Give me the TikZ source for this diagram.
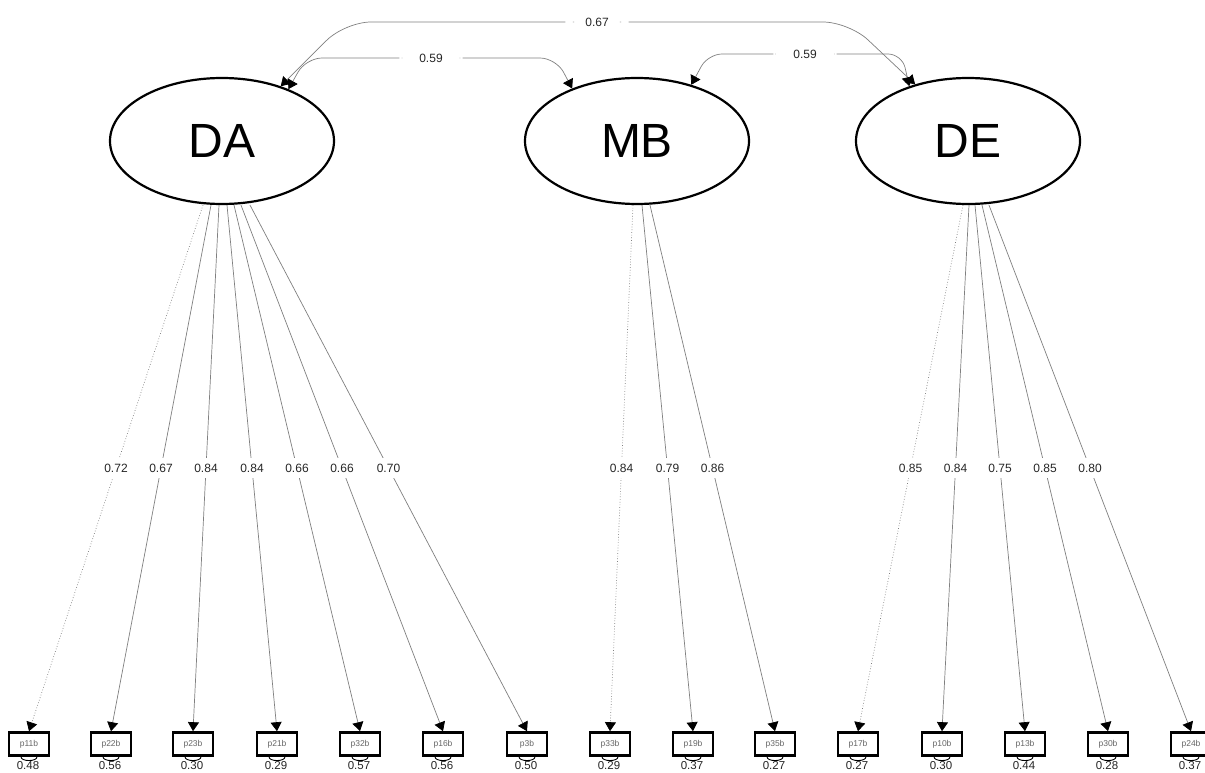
\documentclass[tikz,border=0pt]{standalone}
\usepackage{fontspec}
\setmainfont{Liberation Sans}
\usetikzlibrary{arrows.meta,calc,shapes.geometric}
\begin{document}
\begin{tikzpicture}[x=1pt,y=-1pt,
 latent/.style={ellipse,draw=black,line width=2.2pt,minimum width=224pt,minimum height=126pt,inner sep=0pt,font=\fontsize{48}{48}\selectfont},
 manifest/.style={rectangle,draw=black,line width=2.6pt,minimum width=40pt,minimum height=23pt,inner sep=0pt,text=black!60,font=\fontsize{8.5}{8.5}\selectfont},
 lbl/.style={fill=white,inner sep=1.5pt,font=\fontsize{12}{12}\selectfont,text=black!85},
 lodl/.style={lbl,inner xsep=3pt,inner ysep=6pt},
 covl/.style={lbl,inner xsep=20pt,inner ysep=3pt},
 resl/.style={lbl,inner sep=0.5pt,font=\fontsize{11.5}{11.5}\selectfont},
 tipx/.tip={Triangle[width=11pt,length=9pt,color=black]},
 load/.style={draw=black!50,line width=0.7pt,-tipx},
 fixed/.style={load,dotted},
 cov/.style={draw=black!50,line width=0.7pt,tipx-tipx},
 resid/.style={draw=black,line width=0.9pt},
]
\useasboundingbox (0,0) rectangle (1205,773);
\fill[white] (0,0) rectangle (1205,773);

\node[latent] (DA) at (222,141) {DA};
\node[latent] (MB) at (637,141) {MB};
\node[latent] (DE) at (968,141) {DE};

\foreach \n/\x/\r in {p11b/29/0.48, p22b/111/0.56, p23b/193/0.30, p21b/277/0.29, p32b/360/0.57, p16b/443/0.56, p3b/527/0.50, p33b/610/0.29, p19b/693/0.37, p35b/775/0.27, p17b/858/0.27, p10b/942/0.30, p13b/1025/0.44, p30b/1108/0.28, p24b/1191/0.37} {
  \node[manifest] (\n) at (\x,744) {\n};
  \draw[resid] ($(\n.south)+(-8,0)$) .. controls +(0,5) and +(0,5) .. ($(\n.south)+(8,0)$);
  \node[resl] (r\n) at ($(\n.south)+(-1,8.5)$) {\r};
}

\foreach \f/\o/\t/\l/\s in {DA/-19/p11b/0.72/fixed, DA/-11/p22b/0.67/load, DA/-3/p23b/0.84/load, DA/5/p21b/0.84/load, DA/12/p32b/0.66/load, DA/19/p16b/0.66/load, DA/28/p3b/0.70/load,
  MB/-4/p33b/0.84/fixed, MB/5/p19b/0.79/load, MB/13/p35b/0.86/load,
  DE/-5/p17b/0.85/fixed, DE/1/p10b/0.84/load, DE/7/p13b/0.75/load, DE/14/p30b/0.85/load, DE/21/p24b/0.80/load} {
  \draw[\s] ($(\f.south)+(\o,0)$) -- node[lodl] {\l} (\t.north);
}

\draw[cov,rounded corners=26pt] (DA.43) -- (345,22) -- node[covl] {0.67} (849,22) -- (DE.133);
\draw[cov,rounded corners=16pt] (DA.38) -- (306,58) -- node[covl] {0.59} (556,58) -- (MB.141);
\draw[cov,rounded corners=14pt] (MB.46) -- (708,54) -- node[covl] {0.59} (902,54) -- (DE.137);
\end{tikzpicture}
\end{document}
